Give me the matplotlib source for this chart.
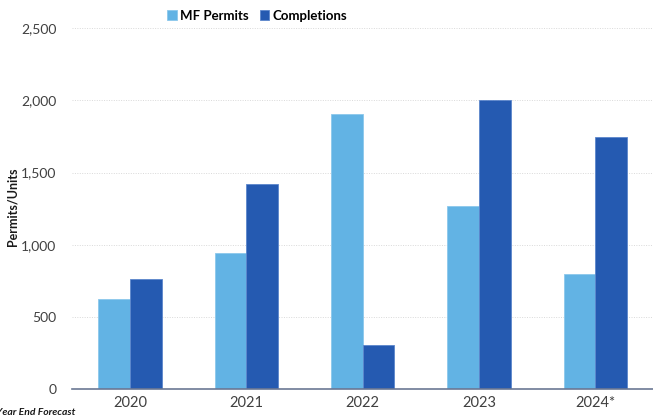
import matplotlib.pyplot as plt
import numpy as np

years = ['2020', '2021', '2022', '2023', '2024*']
mf_permits = [625, 946, 1902, 1270, 800]
completions = [764, 1422, 305, 2000, 1747]

plt.rcParams['font.family'] = ['Lato', 'DejaVu Sans']

fig = plt.figure(figsize=(6.53, 4.17), dpi=100)
ax = fig.add_axes([0.110, 0.0664, 0.891, 0.8664])

x = np.arange(len(years))
w = 0.272
ax.bar(x - w / 2, mf_permits, w, color='#62B3E4', edgecolor='#8CC8EC',
       linewidth=0.6, label='MF Permits', zorder=3)
ax.bar(x + w / 2, completions, w, color='#255AB1', edgecolor='#5C86CC',
       linewidth=0.6, label='Completions', zorder=3)

ax.set_xlim(-0.5, len(years) - 0.5)
ax.set_ylim(0, 2500)
ax.set_yticks(range(0, 2501, 500))
ax.yaxis.set_major_formatter(plt.FuncFormatter(lambda v, p: f'{int(v):,}'))
ax.set_xticks(x)
ax.set_xticklabels(years)
ax.tick_params(axis='both', length=0, labelsize=10.5, colors='#404040')
ax.tick_params(axis='y', pad=11, labelsize=10)
ax.tick_params(axis='x', pad=5)

ax.grid(axis='y', color='#D9D9D9', linestyle=(0, (1, 1.5)), linewidth=0.7, zorder=0)
for side in ['top', 'right', 'left']:
    ax.spines[side].set_visible(False)
ax.spines['bottom'].set_color('#6B7894')
ax.spines['bottom'].set_linewidth(1.2)
ax.spines['bottom'].set_zorder(4)

fig.text(0.019, 0.505, 'Permits/Units', rotation=90, ha='center', va='center',
         fontsize=9, fontweight='bold', color='#1A1A1A')

fig.legend(loc='center', bbox_to_anchor=(0.394, 0.962), ncol=2, frameon=False,
           handlelength=0.75, handleheight=0.75, handletextpad=0.25,
           columnspacing=0.8, prop={'weight': 'bold', 'size': 9.5})

fig.text(-0.012, 0.0, '*Year End Forecast', fontsize=7.5, fontweight='bold',
         style='italic', color='#1A1A1A', ha='left', va='bottom')

fig.savefig('out.png', dpi=100)
